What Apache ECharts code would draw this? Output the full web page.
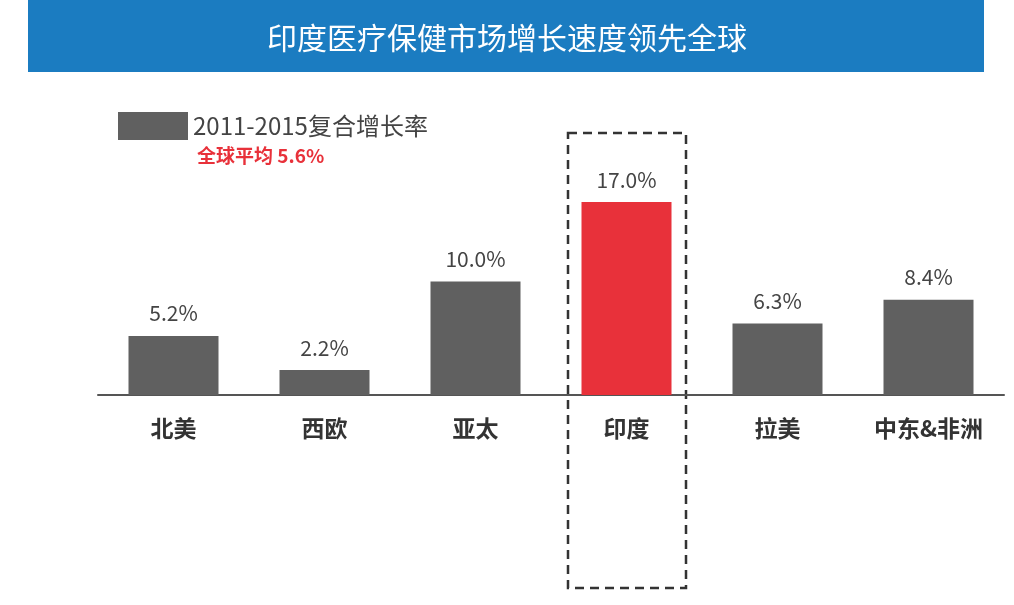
<!DOCTYPE html>
<html><head><meta charset="utf-8">
<script src="https://cdn.jsdelivr.net/npm/echarts@6/dist/echarts.min.js"></script>
<style>html,body{margin:0;background:#fff}#c{width:1014px;height:605px}</style>
</head><body><div id="c"></div>
<script>
const categories = ["北美", "西欧", "亚太", "印度", "拉美", "中东&非洲"];
const growth = [5.2, 2.2, 10.0, 17.0, 6.3, 8.4];
const highlight = "印度";
const seriesName = "2011-2015复合增长率";

const font = "'Noto Sans CJK SC', sans-serif";
const chart = echarts.init(document.getElementById("c"));
chart.setOption({
  animation: false,
  grid: { left: 98, right: 10, top: 168, bottom: 210, containLabel: false },
  title: {
    text: "印度医疗保健市场增长速度领先全球",
    left: "center", top: 18,
    textStyle: { color: "#fff", fontSize: 30, fontWeight: "normal", fontFamily: font }
  },
  legend: {
    left: 113, top: 107, itemWidth: 70, itemHeight: 28, itemGap: 14,
    icon: "rect",
    textStyle: { fontSize: 24, color: "#444", fontFamily: font }
  },
  graphic: [
    { type: "rect", z: -1, shape: { x: 28, y: 0, width: 956, height: 72 }, style: { fill: "#1b7cc1" } },
    { type: "text", left: 197, top: 146, style: { text: "全球平均 5.6%", fill: "#e8313a", fontSize: 19, fontWeight: "bold", fontFamily: font } },
    { type: "rect", shape: { x: 568, y: 133, width: 118, height: 455 },
      style: { fill: "none", stroke: "#333", lineWidth: 2.5, lineDash: [9, 6] } }
  ],
  xAxis: {
    type: "category", data: categories,
    axisLine: { lineStyle: { color: "#555", width: 2 } },
    axisTick: { show: false },
    axisLabel: { fontSize: 23, fontWeight: "bold", color: "#333", margin: 22, fontFamily: font }
  },
  yAxis: { type: "value", min: 0, max: 20, show: false, splitLine: { show: false } },
  series: [{
    name: seriesName, type: "bar", barWidth: 90,
    itemStyle: { color: "#606060" },
    data: growth.map((v, i) => ({
      value: v,
      itemStyle: categories[i] === highlight ? { color: "#e8313a" } : undefined
    })),
    label: {
      show: true, position: "top", distance: 12, fontSize: 21, color: "#444", fontFamily: font,
      formatter: p => p.value.toFixed(1) + "%"
    }
  }]
});
</script></body></html>
